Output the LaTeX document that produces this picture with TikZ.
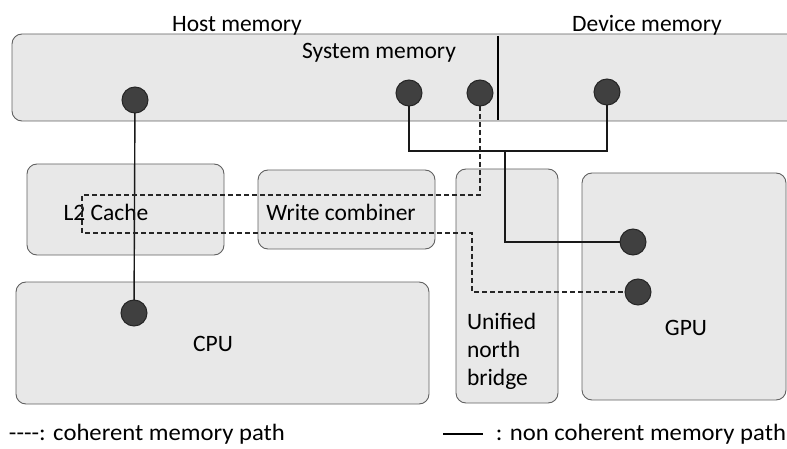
\documentclass[tikz,border=0pt]{standalone}
\usepackage{fontspec}
\setmainfont{Carlito}
\newfontfamily\legfont[FakeStretch=1.05]{Carlito}
\begin{document}
\begin{tikzpicture}[x=1pt,y=-1pt,
  every node/.style={inner sep=0pt, outer sep=0pt},
  txt/.style={font=\fontsize{23.5}{28}\selectfont, anchor=base},
  legtxt/.style={font=\legfont\fontsize{23.5}{28}\selectfont},
  unit/.style={draw=black!62, fill=black!9, line width=0.9pt, rounded corners=10pt},
  port/.style={circle, draw=black!85, fill=black!75, line width=1pt, minimum size=26pt},
  wire/.style={line width=1.4pt, black!90},
  cohwire/.style={line width=1.4pt, black!85, dash pattern=on 5pt off 3pt}]
\useasboundingbox (0,0) rectangle (787,449);

% system memory band (runs off the right edge)
\path[unit] (788,34) -- (12,34) -- (12,121) -- (788,121);
\node[txt] (host) at (237,32) {Host memory};
\node[txt] (dev) at (647,32) {Device memory};
\node[txt] (sysmem) at (379,59) {System memory};
\draw[line width=2.6pt] (498,36) -- (498,120);

% functional units
\node[unit, minimum width=197pt, minimum height=91pt] (l2) at (125.5,209.5) {};
\node[unit, minimum width=177pt, minimum height=79pt] (wc) at (346.5,209.5) {};
\node[unit, minimum width=102pt, minimum height=234pt] (unb) at (507,286) {};
\node[unit, minimum width=204pt, minimum height=227pt] (gpu) at (684,286.5) {};
\node[unit, minimum width=413pt, minimum height=122pt] (cpu) at (222.5,343) {};

\node[txt] (l2t) at (106,221) {L2 Cache};
\node[txt] (wct) at (341,221) {Write combiner};
\node[txt, anchor=base west] (unb1) at (467,329) {Unified};
\node[txt, anchor=base west] (unb2) at (467,357) {north};
\node[txt, anchor=base west] (unb3) at (467,385) {bridge};
\node[txt] (cput) at (213,351) {CPU};
\node[txt] (gput) at (686,335) {GPU};

% memory ports
\node[port] (m0) at (135,100) {};
\node[port] (m1) at (409,93) {};
\node[port] (m2) at (480,93) {};
\node[port] (m3) at (607,92) {};
\node[port] (c0) at (134,313) {};
\node[port] (g1) at (633,242) {};
\node[port] (g2) at (638,292) {};

% routing points
\coordinate (bus) at (505,151);
\coordinate (wa) at (82,195);
\coordinate (wb) at (472,233);

% non coherent paths
\draw[wire] (m0) -- (c0);
\draw[wire] (m1) |- (bus) -| (m3);
\draw[wire] (bus) |- (g1);

% coherent path
\draw[cohwire] (m2) |- (wa) |- (wb) |- (g2);

% legend
\node[legtxt, anchor=base west] (leg1) at (9,440) {{-}{-}{-}{-}: coherent memory path};
\node[legtxt, anchor=base east] (leg2) at (786,440) {: non coherent memory path};
\coordinate (legA) at (443,434);
\coordinate (legB) at (483,434);
\draw[line width=2.6pt] (legA) -- (legB);
\end{tikzpicture}
\end{document}
